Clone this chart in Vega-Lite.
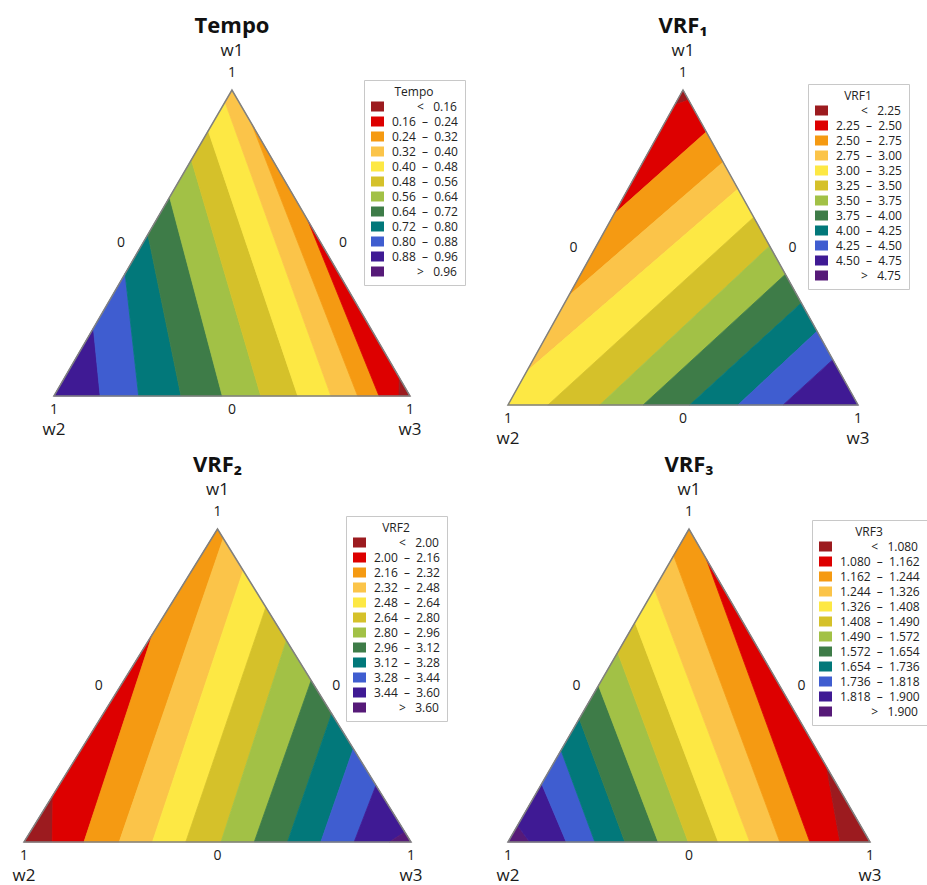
{
  "$schema": "https://vega.github.io/schema/vega-lite/v6.json",
  "background": "white",
  "autosize": {"type": "pad"},
  "padding": {"left": 12, "top": 15, "right": 0, "bottom": 6},
  "config": {
    "view": {"stroke": null},
    "font": "Open Sans",
    "text": {"color": "#1a1a1a", "font": "Open Sans"},
    "title": {"fontSize": 22, "fontWeight": "bold", "font": "Open Sans", "color": "#111111", "offset": 4, "anchor": "middle", "frame": "group"},
    "legend": {
      "symbolSize": 169, "symbolStrokeWidth": 0,
      "labelFont": "Open Sans", "labelFontSize": 12, "labelColor": "#222222", "labelAlign": "left", "labelLimit": 200, "labelOffset": 8,
      "titleFont": "Open Sans", "titleFontSize": 12, "titleFontWeight": "normal", "titleColor": "#222222", "titleAnchor": "middle", "titlePadding": 1,
      "strokeColor": "#c8c8c8", "fillColor": "white", "padding": 7, "rowPadding": 2, "cornerRadius": 0
    }
  },
  "datasets": {
    "tri": [{"o": 0, "x": 0, "y": 0}, {"o": 1, "x": 1, "y": 0}, {"o": 2, "x": 0.5, "y": 1}],
    "lab": [
      {"g": "w1", "t": "w1", "x": 0.5, "y": 1},
      {"g": "one", "t": "1", "x": 0.5, "y": 1},
      {"g": "bn", "t": "1", "x": 0, "y": 0}, {"g": "bn", "t": "0", "x": 0.5, "y": 0}, {"g": "bn", "t": "1", "x": 1, "y": 0},
      {"g": "bw", "t": "w2", "x": 0, "y": 0}, {"g": "bw", "t": "w3", "x": 1, "y": 0},
      {"g": "l0", "t": "0", "x": 0.25, "y": 0.5},
      {"g": "r0", "t": "0", "x": 0.75, "y": 0.5}
    ],
    "tempo": [
      {"band": "0.88 – 0.96", "o": 0, "x": 0, "y": 0}, {"band": "0.88 – 0.96", "o": 1, "x": 0.111, "y": 0.222}, {"band": "0.88 – 0.96", "o": 2, "x": 0.13, "y": 0},
      {"band": "0.80 – 0.88", "o": 0, "x": 0.13, "y": 0}, {"band": "0.80 – 0.88", "o": 1, "x": 0.111, "y": 0.222}, {"band": "0.80 – 0.88", "o": 2, "x": 0.2, "y": 0.4}, {"band": "0.80 – 0.88", "o": 3, "x": 0.238, "y": 0},
      {"band": "0.72 – 0.80", "o": 0, "x": 0.238, "y": 0}, {"band": "0.72 – 0.80", "o": 1, "x": 0.2, "y": 0.4}, {"band": "0.72 – 0.80", "o": 2, "x": 0.264, "y": 0.528}, {"band": "0.72 – 0.80", "o": 3, "x": 0.357, "y": 0},
      {"band": "0.64 – 0.72", "o": 0, "x": 0.357, "y": 0}, {"band": "0.64 – 0.72", "o": 1, "x": 0.264, "y": 0.528}, {"band": "0.64 – 0.72", "o": 2, "x": 0.325, "y": 0.65}, {"band": "0.64 – 0.72", "o": 3, "x": 0.473, "y": 0},
      {"band": "0.56 – 0.64", "o": 0, "x": 0.473, "y": 0}, {"band": "0.56 – 0.64", "o": 1, "x": 0.325, "y": 0.65}, {"band": "0.56 – 0.64", "o": 2, "x": 0.386, "y": 0.772}, {"band": "0.56 – 0.64", "o": 3, "x": 0.581, "y": 0},
      {"band": "0.48 – 0.56", "o": 0, "x": 0.581, "y": 0}, {"band": "0.48 – 0.56", "o": 1, "x": 0.386, "y": 0.772}, {"band": "0.48 – 0.56", "o": 2, "x": 0.4335, "y": 0.867}, {"band": "0.48 – 0.56", "o": 3, "x": 0.685, "y": 0},
      {"band": "0.40 – 0.48", "o": 0, "x": 0.685, "y": 0}, {"band": "0.40 – 0.48", "o": 1, "x": 0.4335, "y": 0.867}, {"band": "0.40 – 0.48", "o": 2, "x": 0.4805, "y": 0.961}, {"band": "0.40 – 0.48", "o": 3, "x": 0.778, "y": 0},
      {"band": "0.32 – 0.40", "o": 0, "x": 0.778, "y": 0}, {"band": "0.32 – 0.40", "o": 1, "x": 0.4805, "y": 0.961}, {"band": "0.32 – 0.40", "o": 2, "x": 0.5, "y": 1}, {"band": "0.32 – 0.40", "o": 3, "x": 0.5555, "y": 0.889}, {"band": "0.32 – 0.40", "o": 4, "x": 0.853, "y": 0},
      {"band": "0.24 – 0.32", "o": 0, "x": 0.853, "y": 0}, {"band": "0.24 – 0.32", "o": 1, "x": 0.5555, "y": 0.889}, {"band": "0.24 – 0.32", "o": 2, "x": 0.7135, "y": 0.573}, {"band": "0.24 – 0.32", "o": 3, "x": 0.913, "y": 0},
      {"band": "0.16 – 0.24", "o": 0, "x": 0.913, "y": 0}, {"band": "0.16 – 0.24", "o": 1, "x": 0.7135, "y": 0.573}, {"band": "0.16 – 0.24", "o": 2, "x": 0.97, "y": 0.06}, {"band": "0.16 – 0.24", "o": 3, "x": 0.969, "y": 0},
      {"band": "< 0.16", "o": 0, "x": 0.969, "y": 0}, {"band": "< 0.16", "o": 1, "x": 0.97, "y": 0.06}, {"band": "< 0.16", "o": 2, "x": 1, "y": 0}
    ],
    "vrf1": [
      {"band": "< 2.25", "o": 0, "x": 0.5, "y": 1}, {"band": "< 2.25", "o": 1, "x": 0.476, "y": 0.952}, {"band": "< 2.25", "o": 2, "x": 0.516, "y": 0.968},
      {"band": "2.25 – 2.50", "o": 0, "x": 0.476, "y": 0.952}, {"band": "2.25 – 2.50", "o": 1, "x": 0.303, "y": 0.606}, {"band": "2.25 – 2.50", "o": 2, "x": 0.5665, "y": 0.867}, {"band": "2.25 – 2.50", "o": 3, "x": 0.516, "y": 0.968},
      {"band": "2.50 – 2.75", "o": 0, "x": 0.303, "y": 0.606}, {"band": "2.50 – 2.75", "o": 1, "x": 0.173, "y": 0.346}, {"band": "2.50 – 2.75", "o": 2, "x": 0.6145, "y": 0.771}, {"band": "2.50 – 2.75", "o": 3, "x": 0.5665, "y": 0.867},
      {"band": "2.75 – 3.00", "o": 0, "x": 0.173, "y": 0.346}, {"band": "2.75 – 3.00", "o": 1, "x": 0.053, "y": 0.106}, {"band": "2.75 – 3.00", "o": 2, "x": 0.657, "y": 0.686}, {"band": "2.75 – 3.00", "o": 3, "x": 0.6145, "y": 0.771},
      {"band": "3.00 – 3.25", "o": 0, "x": 0.053, "y": 0.106}, {"band": "3.00 – 3.25", "o": 1, "x": 0, "y": 0}, {"band": "3.00 – 3.25", "o": 2, "x": 0.114, "y": 0}, {"band": "3.00 – 3.25", "o": 3, "x": 0.702, "y": 0.596}, {"band": "3.00 – 3.25", "o": 4, "x": 0.657, "y": 0.686},
      {"band": "3.25 – 3.50", "o": 0, "x": 0.114, "y": 0}, {"band": "3.25 – 3.50", "o": 1, "x": 0.262, "y": 0}, {"band": "3.25 – 3.50", "o": 2, "x": 0.7475, "y": 0.505}, {"band": "3.25 – 3.50", "o": 3, "x": 0.702, "y": 0.596},
      {"band": "3.50 – 3.75", "o": 0, "x": 0.262, "y": 0}, {"band": "3.50 – 3.75", "o": 1, "x": 0.386, "y": 0}, {"band": "3.50 – 3.75", "o": 2, "x": 0.7925, "y": 0.415}, {"band": "3.50 – 3.75", "o": 3, "x": 0.7475, "y": 0.505},
      {"band": "3.75 – 4.00", "o": 0, "x": 0.386, "y": 0}, {"band": "3.75 – 4.00", "o": 1, "x": 0.519, "y": 0}, {"band": "3.75 – 4.00", "o": 2, "x": 0.838, "y": 0.324}, {"band": "3.75 – 4.00", "o": 3, "x": 0.7925, "y": 0.415},
      {"band": "4.00 – 4.25", "o": 0, "x": 0.519, "y": 0}, {"band": "4.00 – 4.25", "o": 1, "x": 0.657, "y": 0}, {"band": "4.00 – 4.25", "o": 2, "x": 0.883, "y": 0.234}, {"band": "4.00 – 4.25", "o": 3, "x": 0.838, "y": 0.324},
      {"band": "4.25 – 4.50", "o": 0, "x": 0.657, "y": 0}, {"band": "4.25 – 4.50", "o": 1, "x": 0.786, "y": 0}, {"band": "4.25 – 4.50", "o": 2, "x": 0.928, "y": 0.144}, {"band": "4.25 – 4.50", "o": 3, "x": 0.883, "y": 0.234},
      {"band": "4.50 – 4.75", "o": 0, "x": 0.786, "y": 0}, {"band": "4.50 – 4.75", "o": 1, "x": 1, "y": 0}, {"band": "4.50 – 4.75", "o": 2, "x": 0.928, "y": 0.144}
    ],
    "vrf2": [
      {"band": "< 2.00", "o": 0, "x": 0, "y": 0}, {"band": "< 2.00", "o": 1, "x": 0.075, "y": 0.15}, {"band": "< 2.00", "o": 2, "x": 0.073, "y": 0},
      {"band": "2.00 – 2.16", "o": 0, "x": 0.073, "y": 0}, {"band": "2.00 – 2.16", "o": 1, "x": 0.075, "y": 0.15}, {"band": "2.00 – 2.16", "o": 2, "x": 0.3325, "y": 0.665}, {"band": "2.00 – 2.16", "o": 3, "x": 0.155, "y": 0},
      {"band": "2.16 – 2.32", "o": 0, "x": 0.155, "y": 0}, {"band": "2.16 – 2.32", "o": 1, "x": 0.3325, "y": 0.665}, {"band": "2.16 – 2.32", "o": 2, "x": 0.5, "y": 1}, {"band": "2.16 – 2.32", "o": 3, "x": 0.515, "y": 0.97}, {"band": "2.16 – 2.32", "o": 4, "x": 0.246, "y": 0},
      {"band": "2.32 – 2.48", "o": 0, "x": 0.246, "y": 0}, {"band": "2.32 – 2.48", "o": 1, "x": 0.515, "y": 0.97}, {"band": "2.32 – 2.48", "o": 2, "x": 0.5665, "y": 0.867}, {"band": "2.32 – 2.48", "o": 3, "x": 0.332, "y": 0},
      {"band": "2.48 – 2.64", "o": 0, "x": 0.332, "y": 0}, {"band": "2.48 – 2.64", "o": 1, "x": 0.5665, "y": 0.867}, {"band": "2.48 – 2.64", "o": 2, "x": 0.625, "y": 0.75}, {"band": "2.48 – 2.64", "o": 3, "x": 0.418, "y": 0},
      {"band": "2.64 – 2.80", "o": 0, "x": 0.418, "y": 0}, {"band": "2.64 – 2.80", "o": 1, "x": 0.625, "y": 0.75}, {"band": "2.64 – 2.80", "o": 2, "x": 0.678, "y": 0.644}, {"band": "2.64 – 2.80", "o": 3, "x": 0.509, "y": 0},
      {"band": "2.80 – 2.96", "o": 0, "x": 0.509, "y": 0}, {"band": "2.80 – 2.96", "o": 1, "x": 0.678, "y": 0.644}, {"band": "2.80 – 2.96", "o": 2, "x": 0.742, "y": 0.516}, {"band": "2.80 – 2.96", "o": 3, "x": 0.595, "y": 0},
      {"band": "2.96 – 3.12", "o": 0, "x": 0.595, "y": 0}, {"band": "2.96 – 3.12", "o": 1, "x": 0.742, "y": 0.516}, {"band": "2.96 – 3.12", "o": 2, "x": 0.795, "y": 0.41}, {"band": "2.96 – 3.12", "o": 3, "x": 0.681, "y": 0},
      {"band": "3.12 – 3.28", "o": 0, "x": 0.681, "y": 0}, {"band": "3.12 – 3.28", "o": 1, "x": 0.795, "y": 0.41}, {"band": "3.12 – 3.28", "o": 2, "x": 0.851, "y": 0.298}, {"band": "3.12 – 3.28", "o": 3, "x": 0.767, "y": 0},
      {"band": "3.28 – 3.44", "o": 0, "x": 0.767, "y": 0}, {"band": "3.28 – 3.44", "o": 1, "x": 0.851, "y": 0.298}, {"band": "3.28 – 3.44", "o": 2, "x": 0.9095, "y": 0.181}, {"band": "3.28 – 3.44", "o": 3, "x": 0.853, "y": 0},
      {"band": "3.44 – 3.60", "o": 0, "x": 0.853, "y": 0}, {"band": "3.44 – 3.60", "o": 1, "x": 0.9095, "y": 0.181}, {"band": "3.44 – 3.60", "o": 2, "x": 0.984, "y": 0.032}, {"band": "3.44 – 3.60", "o": 3, "x": 0.944, "y": 0},
      {"band": "> 3.60", "o": 0, "x": 0.944, "y": 0}, {"band": "> 3.60", "o": 1, "x": 0.984, "y": 0.032}, {"band": "> 3.60", "o": 2, "x": 1, "y": 0}
    ],
    "vrf3": [
      {"band": "> 1.900", "o": 0, "x": 0, "y": 0}, {"band": "> 1.900", "o": 1, "x": 0.0265, "y": 0.053}, {"band": "> 1.900", "o": 2, "x": 0.06, "y": 0},
      {"band": "1.818 – 1.900", "o": 0, "x": 0.06, "y": 0}, {"band": "1.818 – 1.900", "o": 1, "x": 0.0265, "y": 0.053}, {"band": "1.818 – 1.900", "o": 2, "x": 0.093, "y": 0.186}, {"band": "1.818 – 1.900", "o": 3, "x": 0.161, "y": 0},
      {"band": "1.736 – 1.818", "o": 0, "x": 0.161, "y": 0}, {"band": "1.736 – 1.818", "o": 1, "x": 0.093, "y": 0.186}, {"band": "1.736 – 1.818", "o": 2, "x": 0.1465, "y": 0.293}, {"band": "1.736 – 1.818", "o": 3, "x": 0.24, "y": 0},
      {"band": "1.654 – 1.736", "o": 0, "x": 0.24, "y": 0}, {"band": "1.654 – 1.736", "o": 1, "x": 0.1465, "y": 0.293}, {"band": "1.654 – 1.736", "o": 2, "x": 0.197, "y": 0.394}, {"band": "1.654 – 1.736", "o": 3, "x": 0.323, "y": 0},
      {"band": "1.572 – 1.654", "o": 0, "x": 0.323, "y": 0}, {"band": "1.572 – 1.654", "o": 1, "x": 0.197, "y": 0.394}, {"band": "1.572 – 1.654", "o": 2, "x": 0.25, "y": 0.5}, {"band": "1.572 – 1.654", "o": 3, "x": 0.415, "y": 0},
      {"band": "1.490 – 1.572", "o": 0, "x": 0.415, "y": 0}, {"band": "1.490 – 1.572", "o": 1, "x": 0.25, "y": 0.5}, {"band": "1.490 – 1.572", "o": 2, "x": 0.303, "y": 0.606}, {"band": "1.490 – 1.572", "o": 3, "x": 0.498, "y": 0},
      {"band": "1.408 – 1.490", "o": 0, "x": 0.498, "y": 0}, {"band": "1.408 – 1.490", "o": 1, "x": 0.303, "y": 0.606}, {"band": "1.408 – 1.490", "o": 2, "x": 0.351, "y": 0.702}, {"band": "1.408 – 1.490", "o": 3, "x": 0.581, "y": 0},
      {"band": "1.326 – 1.408", "o": 0, "x": 0.581, "y": 0}, {"band": "1.326 – 1.408", "o": 1, "x": 0.351, "y": 0.702}, {"band": "1.326 – 1.408", "o": 2, "x": 0.4045, "y": 0.809}, {"band": "1.326 – 1.408", "o": 3, "x": 0.668, "y": 0},
      {"band": "1.244 – 1.326", "o": 0, "x": 0.668, "y": 0}, {"band": "1.244 – 1.326", "o": 1, "x": 0.4045, "y": 0.809}, {"band": "1.244 – 1.326", "o": 2, "x": 0.4575, "y": 0.915}, {"band": "1.244 – 1.326", "o": 3, "x": 0.751, "y": 0},
      {"band": "1.162 – 1.244", "o": 0, "x": 0.751, "y": 0}, {"band": "1.162 – 1.244", "o": 1, "x": 0.4575, "y": 0.915}, {"band": "1.162 – 1.244", "o": 2, "x": 0.5, "y": 1}, {"band": "1.162 – 1.244", "o": 3, "x": 0.548, "y": 0.904}, {"band": "1.162 – 1.244", "o": 4, "x": 0.834, "y": 0},
      {"band": "1.080 – 1.162", "o": 0, "x": 0.834, "y": 0}, {"band": "1.080 – 1.162", "o": 1, "x": 0.548, "y": 0.904}, {"band": "1.080 – 1.162", "o": 2, "x": 0.88, "y": 0.24}, {"band": "1.080 – 1.162", "o": 3, "x": 0.917, "y": 0},
      {"band": "< 1.080", "o": 0, "x": 0.917, "y": 0}, {"band": "< 1.080", "o": 1, "x": 0.88, "y": 0.24}, {"band": "< 1.080", "o": 2, "x": 1, "y": 0}
    ]
  },
  "spacing": 7,
  "resolve": {"scale": {"color": "independent", "stroke": "independent", "x": "independent", "y": "independent"}, "legend": {"color": "independent"}},
  "vconcat": [
    {
      "spacing": 30,
      "resolve": {"scale": {"color": "independent", "stroke": "independent", "x": "independent", "y": "independent"}, "legend": {"color": "independent"}},
      "hconcat": [
        {
          "width": 386, "height": 306,
          "title": {"text": "Tempo", "dx": 15},
          "encoding": {
            "x": {"field": "x", "type": "quantitative", "scale": {"domain": [-0.084, 1], "nice": false, "zero": false}, "axis": null},
            "y": {"field": "y", "type": "quantitative", "scale": {"domain": [0, 1], "nice": false, "zero": false}, "axis": null}
          },
          "layer": [
            {"data": {"name": "tempo"}, "mark": {"type": "line", "interpolate": "linear-closed", "filled": true, "strokeWidth": 0.8, "strokeJoin": "round"},
             "encoding": {
               "order": {"field": "o", "type": "quantitative"},
               "color": {"field": "band", "type": "nominal",
                 "scale": {"domain": ["< 0.16", "0.16 – 0.24", "0.24 – 0.32", "0.32 – 0.40", "0.40 – 0.48", "0.48 – 0.56", "0.56 – 0.64", "0.64 – 0.72", "0.72 – 0.80", "0.80 – 0.88", "0.88 – 0.96", "> 0.96"],
                           "range": ["#9C1B1F", "#DD0000", "#F59A12", "#FBC449", "#FDE844", "#D5C12A", "#A2C146", "#3E7C48", "#02787A", "#3F5DD0", "#3F1A94", "#561A78"]},
                 "legend": {"title": "Tempo", "orient": "none", "legendX": 340, "legendY": -10, "symbolType": "M-1,-0.77L1,-0.77L1,0.77L-1,0.77Z",
                   "labelExpr": "replace(replace(replace(datum.label, ' – ', '\u00a0\u00a0–\u00a0\u00a0'), '< ', '\u200b\u00a0\u00a0\u00a0\u00a0\u00a0\u00a0\u00a0\u00a0<\u00a0\u00a0\u00a0'), '> ', '\u200b\u00a0\u00a0\u00a0\u00a0\u00a0\u00a0\u00a0\u00a0>\u00a0\u00a0\u00a0')"}},
               "stroke": {"field": "band", "type": "nominal", "legend": null,
                 "scale": {"domain": ["< 0.16", "0.16 – 0.24", "0.24 – 0.32", "0.32 – 0.40", "0.40 – 0.48", "0.48 – 0.56", "0.56 – 0.64", "0.64 – 0.72", "0.72 – 0.80", "0.80 – 0.88", "0.88 – 0.96", "> 0.96"],
                           "range": ["#9C1B1F", "#DD0000", "#F59A12", "#FBC449", "#FDE844", "#D5C12A", "#A2C146", "#3E7C48", "#02787A", "#3F5DD0", "#3F1A94", "#561A78"]}}
             }},
            {"data": {"name": "tri"}, "mark": {"type": "line", "interpolate": "linear-closed", "stroke": "#808080", "strokeWidth": 1.5}, "encoding": {"order": {"field": "o", "type": "quantitative"}}},
            {"data": {"name": "lab"}, "transform": [{"filter": "datum.g == 'w1'"}], "mark": {"type": "text", "dy": -39, "fontSize": 17}, "encoding": {"text": {"field": "t"}}},
            {"data": {"name": "lab"}, "transform": [{"filter": "datum.g == 'one'"}], "mark": {"type": "text", "dy": -17, "fontSize": 14}, "encoding": {"text": {"field": "t"}}},
            {"data": {"name": "lab"}, "transform": [{"filter": "datum.g == 'bn'"}], "mark": {"type": "text", "dy": 14, "fontSize": 14}, "encoding": {"text": {"field": "t"}}},
            {"data": {"name": "lab"}, "transform": [{"filter": "datum.g == 'bw'"}], "mark": {"type": "text", "dy": 34, "fontSize": 17}, "encoding": {"text": {"field": "t"}}},
            {"data": {"name": "lab"}, "transform": [{"filter": "datum.g == 'l0'"}], "mark": {"type": "text", "dx": -22, "fontSize": 14}, "encoding": {"text": {"field": "t"}}},
            {"data": {"name": "lab"}, "transform": [{"filter": "datum.g == 'r0'"}], "mark": {"type": "text", "dx": 22, "fontSize": 14}, "encoding": {"text": {"field": "t"}}}
          ]
        },
        {
          "width": 350, "height": 315,
          "title": {"text": "VRF\u2081"},
          "encoding": {
            "x": {"field": "x", "type": "quantitative", "scale": {"domain": [0, 1], "nice": false, "zero": false}, "axis": null},
            "y": {"field": "y", "type": "quantitative", "scale": {"domain": [0, 1], "nice": false, "zero": false}, "axis": null}
          },
          "layer": [
            {"data": {"name": "vrf1"}, "mark": {"type": "line", "interpolate": "linear-closed", "filled": true, "strokeWidth": 0.8, "strokeJoin": "round"},
             "encoding": {
               "order": {"field": "o", "type": "quantitative"},
               "color": {"field": "band", "type": "nominal",
                 "scale": {"domain": ["< 2.25", "2.25 – 2.50", "2.50 – 2.75", "2.75 – 3.00", "3.00 – 3.25", "3.25 – 3.50", "3.50 – 3.75", "3.75 – 4.00", "4.00 – 4.25", "4.25 – 4.50", "4.50 – 4.75", "> 4.75"],
                           "range": ["#9C1B1F", "#DD0000", "#F59A12", "#FBC449", "#FDE844", "#D5C12A", "#A2C146", "#3E7C48", "#02787A", "#3F5DD0", "#3F1A94", "#561A78"]},
                 "legend": {"title": "VRF1", "orient": "none", "legendX": 300, "legendY": -6, "symbolType": "M-1,-0.77L1,-0.77L1,0.77L-1,0.77Z",
                   "labelExpr": "replace(replace(replace(datum.label, ' – ', '\u00a0\u00a0–\u00a0\u00a0'), '< ', '\u200b\u00a0\u00a0\u00a0\u00a0\u00a0\u00a0\u00a0\u00a0<\u00a0\u00a0\u00a0'), '> ', '\u200b\u00a0\u00a0\u00a0\u00a0\u00a0\u00a0\u00a0\u00a0>\u00a0\u00a0\u00a0')"}},
               "stroke": {"field": "band", "type": "nominal", "legend": null,
                 "scale": {"domain": ["< 2.25", "2.25 – 2.50", "2.50 – 2.75", "2.75 – 3.00", "3.00 – 3.25", "3.25 – 3.50", "3.50 – 3.75", "3.75 – 4.00", "4.00 – 4.25", "4.25 – 4.50", "4.50 – 4.75", "> 4.75"],
                           "range": ["#9C1B1F", "#DD0000", "#F59A12", "#FBC449", "#FDE844", "#D5C12A", "#A2C146", "#3E7C48", "#02787A", "#3F5DD0", "#3F1A94", "#561A78"]}}
             }},
            {"data": {"name": "tri"}, "mark": {"type": "line", "interpolate": "linear-closed", "stroke": "#808080", "strokeWidth": 1.5}, "encoding": {"order": {"field": "o", "type": "quantitative"}}},
            {"data": {"name": "lab"}, "transform": [{"filter": "datum.g == 'w1'"}], "mark": {"type": "text", "dy": -39, "fontSize": 17}, "encoding": {"text": {"field": "t"}}},
            {"data": {"name": "lab"}, "transform": [{"filter": "datum.g == 'one'"}], "mark": {"type": "text", "dy": -17, "fontSize": 14}, "encoding": {"text": {"field": "t"}}},
            {"data": {"name": "lab"}, "transform": [{"filter": "datum.g == 'bn'"}], "mark": {"type": "text", "dy": 14, "fontSize": 14}, "encoding": {"text": {"field": "t"}}},
            {"data": {"name": "lab"}, "transform": [{"filter": "datum.g == 'bw'"}], "mark": {"type": "text", "dy": 34, "fontSize": 17}, "encoding": {"text": {"field": "t"}}},
            {"data": {"name": "lab"}, "transform": [{"filter": "datum.g == 'l0'"}], "mark": {"type": "text", "dx": -22, "fontSize": 14}, "encoding": {"text": {"field": "t"}}},
            {"data": {"name": "lab"}, "transform": [{"filter": "datum.g == 'r0'"}], "mark": {"type": "text", "dx": 22, "fontSize": 14}, "encoding": {"text": {"field": "t"}}}
          ]
        }
      ]
    },
    {
      "spacing": 48,
      "resolve": {"scale": {"color": "independent", "stroke": "independent", "x": "independent", "y": "independent"}, "legend": {"color": "independent"}},
      "hconcat": [
        {
          "width": 387, "height": 313,
          "title": {"text": "VRF\u2082"},
          "encoding": {
            "x": {"field": "x", "type": "quantitative", "scale": {"domain": [0, 1], "nice": false, "zero": false}, "axis": null},
            "y": {"field": "y", "type": "quantitative", "scale": {"domain": [0, 1], "nice": false, "zero": false}, "axis": null}
          },
          "layer": [
            {"data": {"name": "vrf2"}, "mark": {"type": "line", "interpolate": "linear-closed", "filled": true, "strokeWidth": 0.8, "strokeJoin": "round"},
             "encoding": {
               "order": {"field": "o", "type": "quantitative"},
               "color": {"field": "band", "type": "nominal",
                 "scale": {"domain": ["< 2.00", "2.00 – 2.16", "2.16 – 2.32", "2.32 – 2.48", "2.48 – 2.64", "2.64 – 2.80", "2.80 – 2.96", "2.96 – 3.12", "3.12 – 3.28", "3.28 – 3.44", "3.44 – 3.60", "> 3.60"],
                           "range": ["#9C1B1F", "#DD0000", "#F59A12", "#FBC449", "#FDE844", "#D5C12A", "#A2C146", "#3E7C48", "#02787A", "#3F5DD0", "#3F1A94", "#561A78"]},
                 "legend": {"title": "VRF2", "orient": "none", "legendX": 322, "legendY": -13, "symbolType": "M-1,-0.77L1,-0.77L1,0.77L-1,0.77Z",
                   "labelExpr": "replace(replace(replace(datum.label, ' – ', '\u00a0\u00a0–\u00a0\u00a0'), '< ', '\u200b\u00a0\u00a0\u00a0\u00a0\u00a0\u00a0\u00a0\u00a0<\u00a0\u00a0\u00a0'), '> ', '\u200b\u00a0\u00a0\u00a0\u00a0\u00a0\u00a0\u00a0\u00a0>\u00a0\u00a0\u00a0')"}},
               "stroke": {"field": "band", "type": "nominal", "legend": null,
                 "scale": {"domain": ["< 2.00", "2.00 – 2.16", "2.16 – 2.32", "2.32 – 2.48", "2.48 – 2.64", "2.64 – 2.80", "2.80 – 2.96", "2.96 – 3.12", "3.12 – 3.28", "3.28 – 3.44", "3.44 – 3.60", "> 3.60"],
                           "range": ["#9C1B1F", "#DD0000", "#F59A12", "#FBC449", "#FDE844", "#D5C12A", "#A2C146", "#3E7C48", "#02787A", "#3F5DD0", "#3F1A94", "#561A78"]}}
             }},
            {"data": {"name": "tri"}, "mark": {"type": "line", "interpolate": "linear-closed", "stroke": "#808080", "strokeWidth": 1.5}, "encoding": {"order": {"field": "o", "type": "quantitative"}}},
            {"data": {"name": "lab"}, "transform": [{"filter": "datum.g == 'w1'"}], "mark": {"type": "text", "dy": -39, "fontSize": 17}, "encoding": {"text": {"field": "t"}}},
            {"data": {"name": "lab"}, "transform": [{"filter": "datum.g == 'one'"}], "mark": {"type": "text", "dy": -17, "fontSize": 14}, "encoding": {"text": {"field": "t"}}},
            {"data": {"name": "lab"}, "transform": [{"filter": "datum.g == 'bn'"}], "mark": {"type": "text", "dy": 14, "fontSize": 14}, "encoding": {"text": {"field": "t"}}},
            {"data": {"name": "lab"}, "transform": [{"filter": "datum.g == 'bw'"}], "mark": {"type": "text", "dy": 34, "fontSize": 17}, "encoding": {"text": {"field": "t"}}},
            {"data": {"name": "lab"}, "transform": [{"filter": "datum.g == 'l0'"}], "mark": {"type": "text", "dx": -22, "fontSize": 14}, "encoding": {"text": {"field": "t"}}},
            {"data": {"name": "lab"}, "transform": [{"filter": "datum.g == 'r0'"}], "mark": {"type": "text", "dx": 22, "fontSize": 14}, "encoding": {"text": {"field": "t"}}}
          ]
        },
        {
          "width": 362, "height": 313,
          "title": {"text": "VRF\u2083"},
          "encoding": {
            "x": {"field": "x", "type": "quantitative", "scale": {"domain": [0, 1], "nice": false, "zero": false}, "axis": null},
            "y": {"field": "y", "type": "quantitative", "scale": {"domain": [0, 1], "nice": false, "zero": false}, "axis": null}
          },
          "layer": [
            {"data": {"name": "vrf3"}, "mark": {"type": "line", "interpolate": "linear-closed", "filled": true, "strokeWidth": 0.8, "strokeJoin": "round"},
             "encoding": {
               "order": {"field": "o", "type": "quantitative"},
               "color": {"field": "band", "type": "nominal",
                 "scale": {"domain": ["< 1.080", "1.080 – 1.162", "1.162 – 1.244", "1.244 – 1.326", "1.326 – 1.408", "1.408 – 1.490", "1.490 – 1.572", "1.572 – 1.654", "1.654 – 1.736", "1.736 – 1.818", "1.818 – 1.900", "> 1.900"],
                           "range": ["#9C1B1F", "#DD0000", "#F59A12", "#FBC449", "#FDE844", "#D5C12A", "#A2C146", "#3E7C48", "#02787A", "#3F5DD0", "#3F1A94", "#561A78"]},
                 "legend": {"title": "VRF3", "orient": "none", "legendX": 304, "legendY": -9, "symbolType": "M-1,-0.77L1,-0.77L1,0.77L-1,0.77Z",
                   "labelExpr": "replace(replace(replace(datum.label, ' – ', '\u00a0\u00a0–\u00a0\u00a0'), '< ', '\u200b\u00a0\u00a0\u00a0\u00a0\u00a0\u00a0\u00a0\u00a0\u00a0\u00a0<\u00a0\u00a0\u00a0'), '> ', '\u200b\u00a0\u00a0\u00a0\u00a0\u00a0\u00a0\u00a0\u00a0\u00a0\u00a0>\u00a0\u00a0\u00a0')"}},
               "stroke": {"field": "band", "type": "nominal", "legend": null,
                 "scale": {"domain": ["< 1.080", "1.080 – 1.162", "1.162 – 1.244", "1.244 – 1.326", "1.326 – 1.408", "1.408 – 1.490", "1.490 – 1.572", "1.572 – 1.654", "1.654 – 1.736", "1.736 – 1.818", "1.818 – 1.900", "> 1.900"],
                           "range": ["#9C1B1F", "#DD0000", "#F59A12", "#FBC449", "#FDE844", "#D5C12A", "#A2C146", "#3E7C48", "#02787A", "#3F5DD0", "#3F1A94", "#561A78"]}}
             }},
            {"data": {"name": "tri"}, "mark": {"type": "line", "interpolate": "linear-closed", "stroke": "#808080", "strokeWidth": 1.5}, "encoding": {"order": {"field": "o", "type": "quantitative"}}},
            {"data": {"name": "lab"}, "transform": [{"filter": "datum.g == 'w1'"}], "mark": {"type": "text", "dy": -39, "fontSize": 17}, "encoding": {"text": {"field": "t"}}},
            {"data": {"name": "lab"}, "transform": [{"filter": "datum.g == 'one'"}], "mark": {"type": "text", "dy": -17, "fontSize": 14}, "encoding": {"text": {"field": "t"}}},
            {"data": {"name": "lab"}, "transform": [{"filter": "datum.g == 'bn'"}], "mark": {"type": "text", "dy": 14, "fontSize": 14}, "encoding": {"text": {"field": "t"}}},
            {"data": {"name": "lab"}, "transform": [{"filter": "datum.g == 'bw'"}], "mark": {"type": "text", "dy": 34, "fontSize": 17}, "encoding": {"text": {"field": "t"}}},
            {"data": {"name": "lab"}, "transform": [{"filter": "datum.g == 'l0'"}], "mark": {"type": "text", "dx": -22, "fontSize": 14}, "encoding": {"text": {"field": "t"}}},
            {"data": {"name": "lab"}, "transform": [{"filter": "datum.g == 'r0'"}], "mark": {"type": "text", "dx": 22, "fontSize": 14}, "encoding": {"text": {"field": "t"}}}
          ]
        }
      ]
    }
  ]
}
